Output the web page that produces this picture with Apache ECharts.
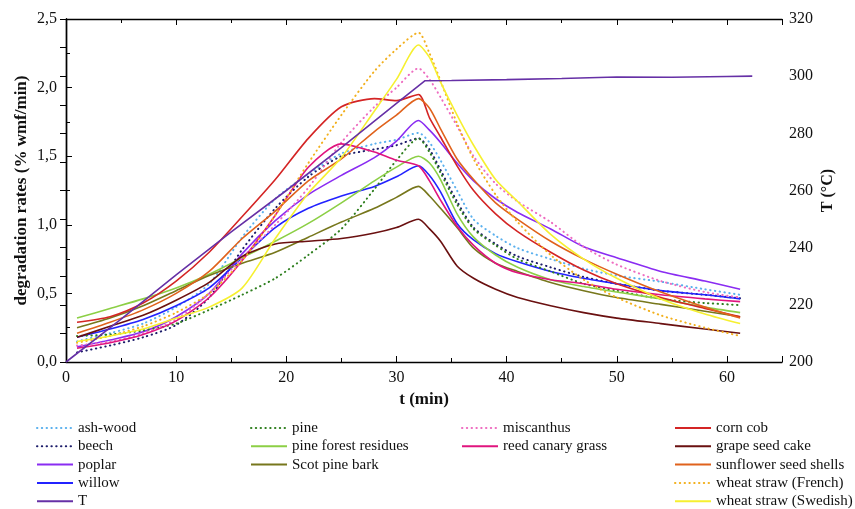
<!DOCTYPE html>
<html>
<head>
<meta charset="utf-8">
<script src="https://cdn.jsdelivr.net/npm/echarts@6/dist/echarts.min.js"></script>
<style>
  html, body { margin: 0; padding: 0; background: #fff; }
  #chart { width: 855px; height: 509px; }
</style>
</head>
<body>
<div id="chart"></div>
<script>
// sample times (min) shared by the degradation-rate curves
const times = [1, 4, 7, 10, 13, 16, 19, 22, 25, 28, 30, 32, 33, 34, 35.5, 37, 39, 41, 44, 47, 50, 54, 58, 61.2]

// degradation rates (% wmf/min)
const ashWood    = [0.15, 0.21, 0.28, 0.40, 0.57, 0.91, 1.19, 1.37, 1.52, 1.59, 1.62, 1.67, 1.60, 1.47, 1.25, 1.04, 0.92, 0.83, 0.75, 0.68, 0.63, 0.585, 0.53, 0.49]
const beech      = [0.07, 0.12, 0.18, 0.27, 0.47, 0.82, 1.12, 1.35, 1.50, 1.55, 1.58, 1.63, 1.55, 1.40, 1.17, 0.98, 0.86, 0.77, 0.69, 0.62, 0.57, 0.52, 0.49, 0.465]
const poplar     = [0.11, 0.16, 0.22, 0.33, 0.50, 0.79, 1.03, 1.22, 1.36, 1.49, 1.61, 1.76, 1.69, 1.60, 1.45, 1.32, 1.19, 1.09, 0.97, 0.84, 0.76, 0.66, 0.59, 0.53]
const willow     = [0.18, 0.24, 0.31, 0.41, 0.54, 0.76, 0.98, 1.12, 1.21, 1.28, 1.35, 1.43, 1.36, 1.24, 1.01, 0.89, 0.79, 0.73, 0.66, 0.61, 0.57, 0.52, 0.49, 0.46]
const pine       = [0.19, 0.20, 0.23, 0.28, 0.38, 0.49, 0.61, 0.78, 0.97, 1.26, 1.47, 1.63, 1.53, 1.38, 1.15, 0.97, 0.85, 0.75, 0.66, 0.57, 0.52, 0.46, 0.43, 0.415]
const pineForest = [0.32, 0.39, 0.46, 0.54, 0.64, 0.76, 0.88, 1.01, 1.16, 1.32, 1.42, 1.50, 1.45, 1.33, 1.08, 0.91, 0.78, 0.69, 0.60, 0.55, 0.51, 0.46, 0.40, 0.36]
const scotBark   = [0.25, 0.32, 0.41, 0.52, 0.63, 0.72, 0.80, 0.91, 1.02, 1.12, 1.20, 1.28, 1.21, 1.12, 0.98, 0.83, 0.72, 0.66, 0.58, 0.52, 0.47, 0.42, 0.37, 0.33]
const miscanthus = [0.12, 0.15, 0.21, 0.31, 0.50, 0.76, 1.00, 1.27, 1.60, 1.86, 2.00, 2.14, 2.06, 1.93, 1.72, 1.50, 1.30, 1.17, 1.02, 0.84, 0.71, 0.59, 0.51, 0.47]
const reedCanary = [0.10, 0.14, 0.20, 0.30, 0.47, 0.74, 1.07, 1.42, 1.59, 1.53, 1.47, 1.43, 1.32, 1.18, 0.99, 0.85, 0.72, 0.65, 0.60, 0.57, 0.53, 0.49, 0.46, 0.44]
const cornCob    = [0.29, 0.33, 0.43, 0.59, 0.80, 1.06, 1.33, 1.63, 1.86, 1.92, 1.905, 1.95, 1.78, 1.64, 1.43, 1.25, 1.08, 0.95, 0.80, 0.67, 0.57, 0.47, 0.39, 0.33]
const grapeSeed  = [0.18, 0.26, 0.34, 0.45, 0.58, 0.77, 0.86, 0.88, 0.90, 0.94, 0.98, 1.04, 0.97, 0.88, 0.70, 0.61, 0.53, 0.47, 0.41, 0.36, 0.32, 0.28, 0.24, 0.21]
const sunflower  = [0.21, 0.29, 0.38, 0.50, 0.66, 0.90, 1.10, 1.32, 1.48, 1.68, 1.80, 1.92, 1.85, 1.70, 1.48, 1.33, 1.16, 1.04, 0.88, 0.75, 0.64, 0.51, 0.40, 0.32]
const wheatFr    = [0.14, 0.19, 0.26, 0.36, 0.50, 0.74, 1.07, 1.45, 1.80, 2.12, 2.28, 2.40, 2.25, 2.05, 1.74, 1.48, 1.22, 1.02, 0.78, 0.60, 0.47, 0.34, 0.25, 0.19]
const wheatSw    = [0.15, 0.19, 0.24, 0.32, 0.40, 0.54, 0.90, 1.23, 1.49, 1.83, 2.06, 2.31, 2.22, 2.04, 1.80, 1.58, 1.33, 1.17, 0.93, 0.75, 0.61, 0.46, 0.35, 0.28]

// reactor temperature (°C), right axis
const tempTimes = [0, 5, 10, 15, 20, 25, 30, 32.6, 35, 40, 45, 50, 55, 60, 62.3]
const temps     = [200, 215, 230.5, 245.5, 260, 275, 290.5, 298.4, 298.5, 298.8, 299.2, 299.7, 299.6, 299.9, 300]

const FONT = 'Liberation Serif'
const DOT = [0.4, 4.4]   // round-capped tiny dashes read as dots

// name, values, colour, dotted?
const curves = [
  ['ash-wood', ashWood, '#5ab0ee', true],
  ['beech', beech, '#1c1c6a', true],
  ['poplar', poplar, '#8a2cf2', false],
  ['willow', willow, '#2323ff', false],
  ['pine', pine, '#2f7f1f', true],
  ['pine forest residues', pineForest, '#8ccf45', false],
  ['Scot pine bark', scotBark, '#77771c', false],
  ['miscanthus', miscanthus, '#ee6cc0', true],
  ['reed canary grass', reedCanary, '#e0147e', false],
  ['corn cob', cornCob, '#d42525', false],
  ['grape seed cake', grapeSeed, '#6a1010', false],
  ['sunflower seed shells', sunflower, '#e0621c', false],
  ['wheat straw (French)', wheatFr, '#f2b01e', true],
  ['wheat straw (Swedish)', wheatSw, '#f6f030', false]
]

const legendCols = [
  { left: 36, names: ['ash-wood', 'beech', 'poplar', 'willow', 'T'] },
  { left: 250, names: ['pine', 'pine forest residues', 'Scot pine bark'] },
  { left: 461, names: ['miscanthus', 'reed canary grass'] },
  { left: 674, names: ['corn cob', 'grape seed cake', 'sunflower seed shells', 'wheat straw (French)', 'wheat straw (Swedish)'] }
]

const series = curves.map(([name, vals, color, dotted]) => ({
  name: name,
  type: 'line',
  xAxisIndex: 0,
  yAxisIndex: 0,
  symbol: 'none',
  smooth: 0.25,
  data: times.map((t, i) => [t, vals[i]]),
  lineStyle: dotted
    ? { color: color, width: 2, type: DOT, cap: 'round' }
    : { color: color, width: 1.6, type: 'solid' },
  itemStyle: { color: color }
}))

series.push({
  name: 'T',
  type: 'line',
  xAxisIndex: 0,
  yAxisIndex: 1,
  symbol: 'none',
  data: tempTimes.map((t, i) => [t, temps[i]]),
  lineStyle: { color: '#6630a6', width: 1.6 },
  itemStyle: { color: '#6630a6' }
})

const commaFmt = v => v.toFixed(1).replace('.', ',')
const axisLine = { show: true, lineStyle: { color: '#000', width: 1.4 } }
const labelStyle = { fontFamily: FONT, fontSize: 16, color: '#111' }
const nameStyle = { fontFamily: FONT, fontSize: 17, fontWeight: 'bold', color: '#111' }

const option = {
  animation: false,
  backgroundColor: '#fff',
  grid: { left: 66, right: 73, top: 19, bottom: 147 },
  legend: legendCols.map(col => ({
    data: col.names,
    orient: 'vertical',
    left: col.left,
    top: 420,
    height: 100,
    padding: 0,
    itemWidth: 36,
    itemHeight: 12,
    itemGap: 2.3,
    selectedMode: false,
    itemStyle: { opacity: 0 },
    textStyle: { fontFamily: FONT, fontSize: 15, color: '#111', lineHeight: 16 }
  })),
  xAxis: [
    {
      type: 'value', position: 'bottom', min: 0, max: 65, interval: 10,
      name: 't (min)', nameLocation: 'middle', nameGap: 18, nameTextStyle: nameStyle,
      axisLine: axisLine,
      axisTick: { inside: true, length: 6, lineStyle: { color: '#000' } },
      minorTick: { show: true, splitNumber: 2, length: 4, lineStyle: { color: '#000' } },
      axisLabel: Object.assign({ margin: 8, showMaxLabel: false }, labelStyle),
      splitLine: { show: false }
    },
    {
      type: 'value', position: 'top', min: 0, max: 65, interval: 10,
      axisLine: axisLine,
      axisTick: { inside: true, length: 6, lineStyle: { color: '#000' } },
      minorTick: { show: true, splitNumber: 2, length: 4, lineStyle: { color: '#000' } },
      axisLabel: { show: false },
      splitLine: { show: false }
    }
  ],
  yAxis: [
    {
      type: 'value', position: 'left', min: 0, max: 2.5, interval: 0.5,
      name: 'degradation rates (% wmf/min)', nameLocation: 'middle', nameGap: 36,
      nameMoveOverlap: false, nameTextStyle: nameStyle,
      axisLine: axisLine,
      axisTick: { inside: true, length: 6, lineStyle: { color: '#000' } },
      minorTick: { show: true, splitNumber: 2, length: 4, lineStyle: { color: '#000' } },
      axisLabel: Object.assign({ margin: 9, formatter: commaFmt }, labelStyle),
      splitLine: { show: false }
    },
    {
      type: 'value', position: 'right', min: 200, max: 320, interval: 20,
      name: 'T (°C)', nameLocation: 'middle', nameGap: 38, nameRotate: 90,
      nameMoveOverlap: false,
      nameTextStyle: Object.assign({}, nameStyle, { fontSize: 16 }),
      axisLine: axisLine,
      axisTick: { inside: true, length: 6, lineStyle: { color: '#000' } },
      minorTick: { show: true, splitNumber: 2, length: 6, lineStyle: { color: '#000' } },
      axisLabel: Object.assign({ margin: 7 }, labelStyle),
      splitLine: { show: false }
    }
  ],
  series: series
}

const chart = echarts.init(document.getElementById('chart'))
chart.setOption(option)
</script>
</body>
</html>
